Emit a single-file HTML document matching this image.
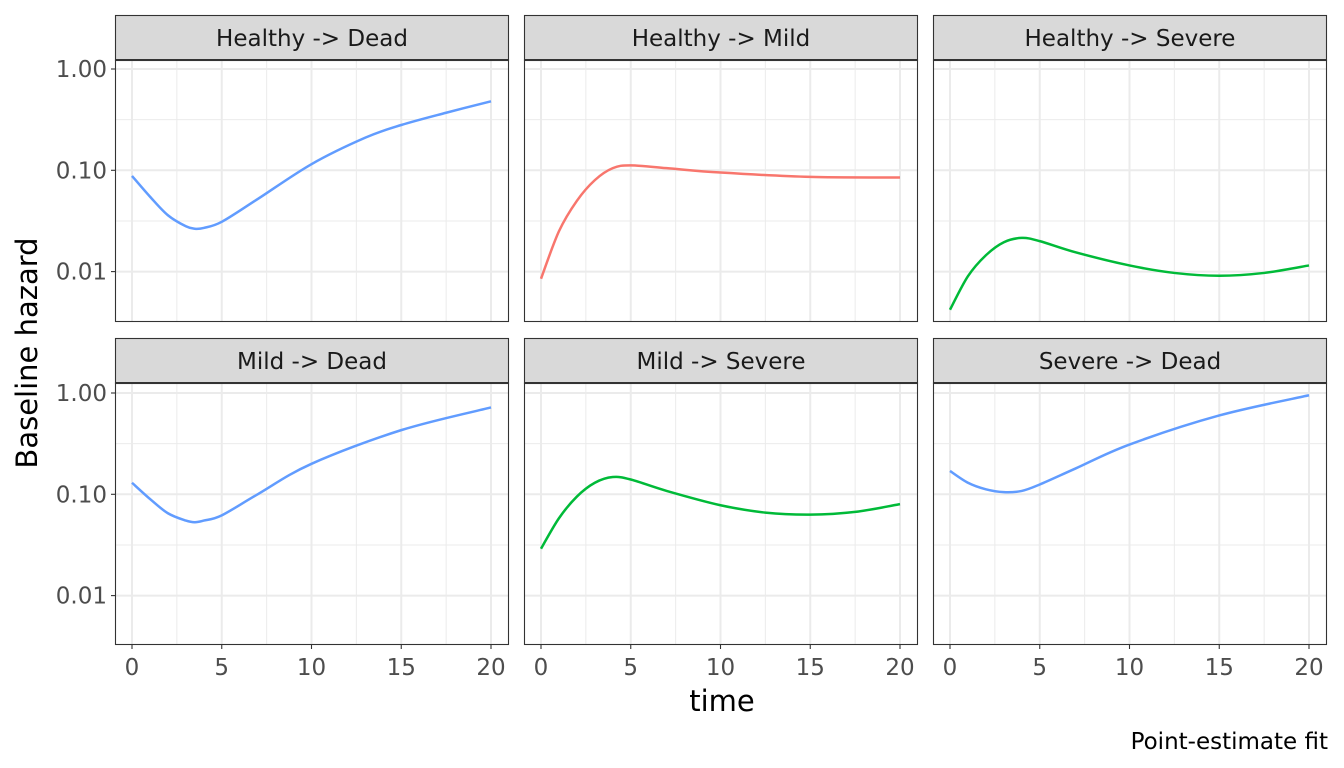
<!DOCTYPE html><html><head><style>body{margin:0;background:#fff}svg{display:block}text{font-family:"DejaVu Sans","Liberation Sans",sans-serif}</style></head><body>
<svg id="s" width="1344" height="768" xmlns="http://www.w3.org/2000/svg"></svg>
<script>
const S=document.getElementById('s');let h='';
const px=[115,524,933],pw=394,rows=[{st:15,top:60,bot:322,y1:69},{st:338,top:383,bot:645,y1:393}];
const titles=[["Healthy -> Dead","Healthy -> Mild","Healthy -> Severe"],["Mild -> Dead","Mild -> Severe","Severe -> Dead"]];
const B='#619CFF',R='#F8766D',G='#00BA38';
const data=[[[B,[[0,.088],[1,.055],[2,.036],[3,.028],[3.5,.0265],[4,.027],[5,.031],[7,.052],[10,.115],[13,.21],[15,.28],[17.5,.37],[20,.48]]],
[R,[[0,.0085],[1,.025],[2,.05],[3,.08],[4,.105],[5,.112],[7,.105],[10,.095],[15,.086],[20,.085]]],
[G,[[0,.0042],[1,.009],[2,.0145],[3,.0195],[4,.0215],[5,.02],[7,.0155],[10,.0115],[12.5,.0097],[15,.0091],[17.5,.0097],[20,.0115]]]],
[[B,[[0,.13],[1,.09],[2,.065],[3,.055],[3.5,.053],[4,.055],[5,.062],[7,.1],[10,.2],[15,.43],[20,.72]]],
[G,[[0,.029],[1,.058],[2,.095],[3,.13],[4,.148],[5,.14],[7,.108],[10,.078],[12.5,.066],[15,.063],[17.5,.067],[20,.08]]],
[B,[[0,.17],[1,.13],[2,.112],[3,.105],[4,.108],[5,.125],[7,.18],[10,.31],[15,.6],[20,.95]]]]];
const dec=101.3;
rows.forEach((r,ri)=>{px.forEach((x0,ci)=>{
 const X=t=>x0+17+t*17.95, Y=v=>r.y1-dec*Math.log10(v);
 h+=`<rect x="${x0}" y="${r.top}" width="${pw}" height="${r.bot-r.top}" fill="#fff"/>`;
 for(let t=2.5;t<20;t+=5)h+=`<line x1="${X(t)}" x2="${X(t)}" y1="${r.top}" y2="${r.bot}" stroke="#ebebeb" stroke-width="1"/>`;
 [0.316,0.0316].forEach(v=>h+=`<line x1="${x0}" x2="${x0+pw}" y1="${Y(v)}" y2="${Y(v)}" stroke="#ebebeb" stroke-width="1"/>`);
 for(let t=0;t<=20;t+=5)h+=`<line x1="${X(t)}" x2="${X(t)}" y1="${r.top}" y2="${r.bot}" stroke="#ebebeb" stroke-width="2"/>`;
 [1,.1,.01].forEach(v=>h+=`<line x1="${x0}" x2="${x0+pw}" y1="${Y(v)}" y2="${Y(v)}" stroke="#ebebeb" stroke-width="2"/>`);
 const [col,pts]=data[ri][ci];const P=pts.map(p=>[X(p[0]),Y(p[1])]);
 let d=`M${P[0][0]},${P[0][1]}`;
 for(let i=0;i<P.length-1;i++){const p0=P[Math.max(i-1,0)],p1=P[i],p2=P[i+1],p3=P[Math.min(i+2,P.length-1)];
  d+=` C${p1[0]+(p2[0]-p0[0])/6},${p1[1]+(p2[1]-p0[1])/6} ${p2[0]-(p3[0]-p1[0])/6},${p2[1]-(p3[1]-p1[1])/6} ${p2[0]},${p2[1]}`;}
 h+=`<path d="${d}" fill="none" stroke="${col}" stroke-width="2.5"/>`;
 h+=`<rect x="${x0+.5}" y="${r.top}" width="${pw-1}" height="${r.bot-r.top-.5}" fill="none" stroke="#333" stroke-width="1.1"/>`;
 h+=`<rect x="${x0+.5}" y="${r.st+.5}" width="${pw-1}" height="${r.top-r.st}" fill="#d9d9d9" stroke="#333" stroke-width="1.1"/>`;
 h+=`<line x1="${x0}" x2="${x0+pw}" y1="${r.top}" y2="${r.top}" stroke="#333" stroke-width="2"/>`;
 h+=`<text x="${x0+pw/2}" y="${r.st+31}" font-size="23" fill="#1a1a1a" text-anchor="middle">${titles[ri][ci].replace('>','&gt;')}</text>`;
 if(ci==0)[[1,'1.00'],[.1,'0.10'],[.01,'0.01']].forEach(([v,l])=>{h+=`<line x1="${x0-4}" x2="${x0}" y1="${Y(v)}" y2="${Y(v)}" stroke="#333" stroke-width="1.1"/><text x="${x0-8}" y="${Y(v)+8}" font-size="23" fill="#4d4d4d" text-anchor="end">${l}</text>`;});
 if(ri==1)for(let t=0;t<=20;t+=5)h+=`<line x1="${X(t)}" x2="${X(t)}" y1="${r.bot}" y2="${r.bot+4}" stroke="#333" stroke-width="1.1"/><text x="${X(t)}" y="${r.bot+30}" font-size="23" fill="#4d4d4d" text-anchor="middle">${t}</text>`;
});});
h+=`<text x="722" y="711" font-size="29" fill="#000" text-anchor="middle">time</text>`;
h+=`<text transform="translate(37,353) rotate(-90)" font-size="29" fill="#000" text-anchor="middle">Baseline hazard</text>`;
h+=`<text x="1328" y="749" font-size="23" fill="#000" text-anchor="end">Point-estimate fit</text>`;
S.innerHTML=h;
</script></body></html>
